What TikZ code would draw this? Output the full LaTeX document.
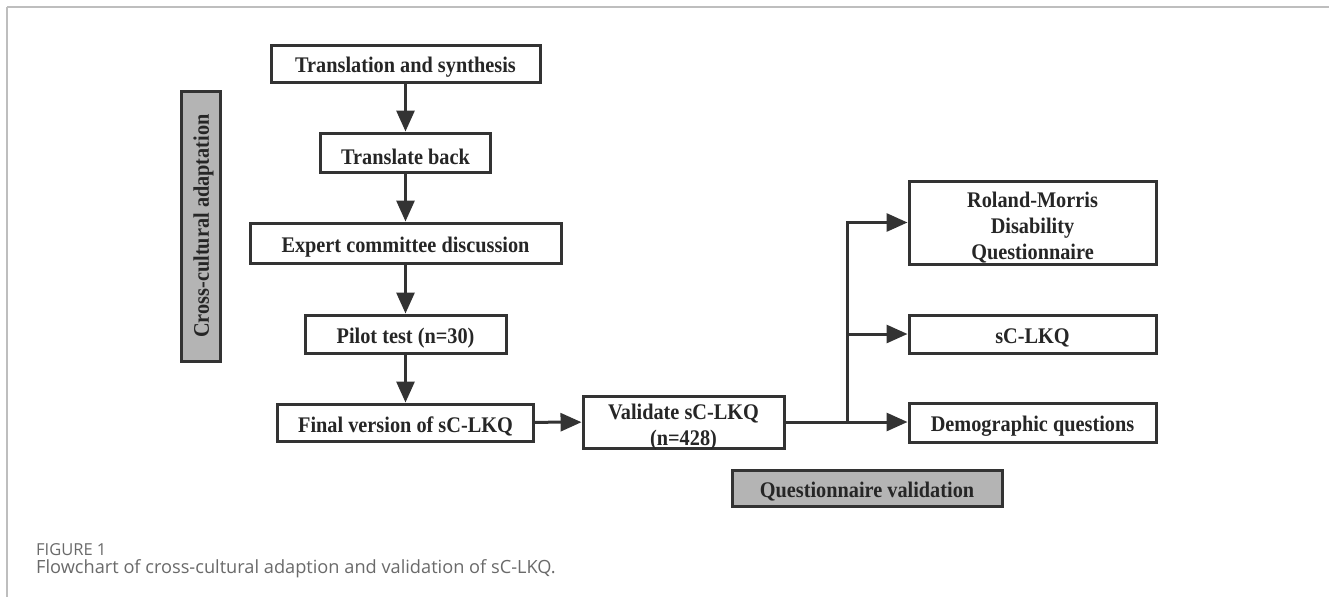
\documentclass[tikz,border=0pt]{standalone}
\usepackage{fontspec}
\setmainfont{Liberation Serif}
\newfontfamily\capfont{Open Sans}
\usetikzlibrary{arrows.meta}
\definecolor{boxline}{HTML}{333333}
\definecolor{txt}{HTML}{262626}
\definecolor{grayfill}{HTML}{B4B4B4}
\definecolor{framec}{HTML}{BEBEBE}
\definecolor{capc}{HTML}{6A6A6A}
\tikzset{
  flowbox/.style={draw=boxline, line width=3pt, fill=white, inner sep=0pt},
  labelbox/.style={flowbox, fill=grayfill},
  boxtext/.style={inner sep=0pt, align=center, text=txt, xscale=0.91, transform shape,
    font=\fontsize{22.3}{26}\selectfont\bfseries},
  conn/.style={draw=boxline, line width=3pt},
  arr/.style={conn, -{Triangle[length=21pt,width=18pt]}},
}
\begin{document}
\begin{tikzpicture}[x=1pt,y=-1pt]
\useasboundingbox (0,0) rectangle (1329,597);
\fill[white] (0,0) rectangle (1329,597);
% frame
\draw[framec, line width=1.5pt] (7,7) -- (1329,7);
\draw[framec, line width=1.5pt] (7,7) -- (7,597);

% left column boxes
\node[flowbox, minimum width=269pt, minimum height=37pt] (trans) at (405.5,63.5) {};
\node[flowbox, minimum width=170pt, minimum height=39pt] (back) at (405.5,152.5) {};
\node[flowbox, minimum width=311pt, minimum height=40pt] (expert) at (405.5,243) {};
\node[flowbox, minimum width=201pt, minimum height=38pt] (pilot) at (405.5,334) {};
\node[flowbox, minimum width=256pt, minimum height=37pt] (final) at (405.5,422.5) {};

% gray labels
\node[labelbox, minimum width=39pt, minimum height=270pt] (cross) at (200.5,226) {};
\node[labelbox, minimum width=270pt, minimum height=36pt] (qval) at (867,488) {};

% validation boxes
\node[flowbox, minimum width=201pt, minimum height=52pt] (valid) at (683.5,422) {};
\node[flowbox, minimum width=247pt, minimum height=83pt] (roland) at (1032.5,222.5) {};
\node[flowbox, minimum width=247pt, minimum height=38pt] (sclkq) at (1032.5,334) {};
\node[flowbox, minimum width=247pt, minimum height=39pt] (demo) at (1032.5,422.5) {};

% texts
\node[boxtext] (trans-t) at ([yshift=-4pt]trans.center) {Translation and synthesis};
\node[boxtext] (back-t) at ([yshift=-4pt]back.center) {Translate back};
\node[boxtext] (expert-t) at ([yshift=-4pt]expert.center) {Expert committee discussion};
\node[boxtext] (pilot-t) at ([yshift=-4pt]pilot.center) {Pilot test (n=30)};
\node[boxtext] (final-t) at ([yshift=-4pt]final.center) {Final version of sC-LKQ};
\node[rotate=90, boxtext] (cross-t) at ([xshift=3pt]cross.center) {Cross-cultural adaptation};
\node[boxtext] (qval-t) at ([yshift=-4pt]qval.center) {Questionnaire validation};
\node[boxtext] (valid-t) at ([yshift=-5pt]valid.center) {Validate sC-LKQ\\(n=428)};
\node[boxtext] (roland-t) at ([yshift=-5pt]roland.center) {Roland-Morris\\Disability\\Questionnaire};
\node[boxtext] (sclkq-t) at ([yshift=-4pt]sclkq.center) {sC-LKQ};
\node[boxtext] (demo-t) at ([yshift=-4pt]demo.center) {Demographic questions};

\coordinate (br) at (847,422);
\coordinate (brtop) at (847,222.5);
\coordinate (brmid) at (847,334);

% connectors
\draw[arr] (trans) -- (back);
\draw[arr] (back) -- (expert);
\draw[arr] (expert) -- (pilot);
\draw[arr] (pilot) -- (final);
\draw[arr] (final) -- (valid);
\draw[conn] (valid.east |- br) -- (br);
\draw[conn, line cap=rect] (br) -- (brtop);
\draw[arr] (brtop) -- (roland.west |- brtop);
\draw[arr] (brmid) -- (sclkq.west |- brmid);
\draw[arr] (br) -- (demo.west |- br);

% caption
\node[anchor=west, inner sep=0pt, text=capc, font=\capfont\fontsize{16.5}{18}\selectfont] (figlab) at (36,550) {FIGURE 1};
\node[anchor=west, inner sep=0pt, text=capc, font=\capfont\fontsize{18.2}{20}\selectfont] (caption) at (36,569) {Flowchart of cross-cultural adaption and validation of sC-LKQ.};
\end{tikzpicture}
\end{document}
